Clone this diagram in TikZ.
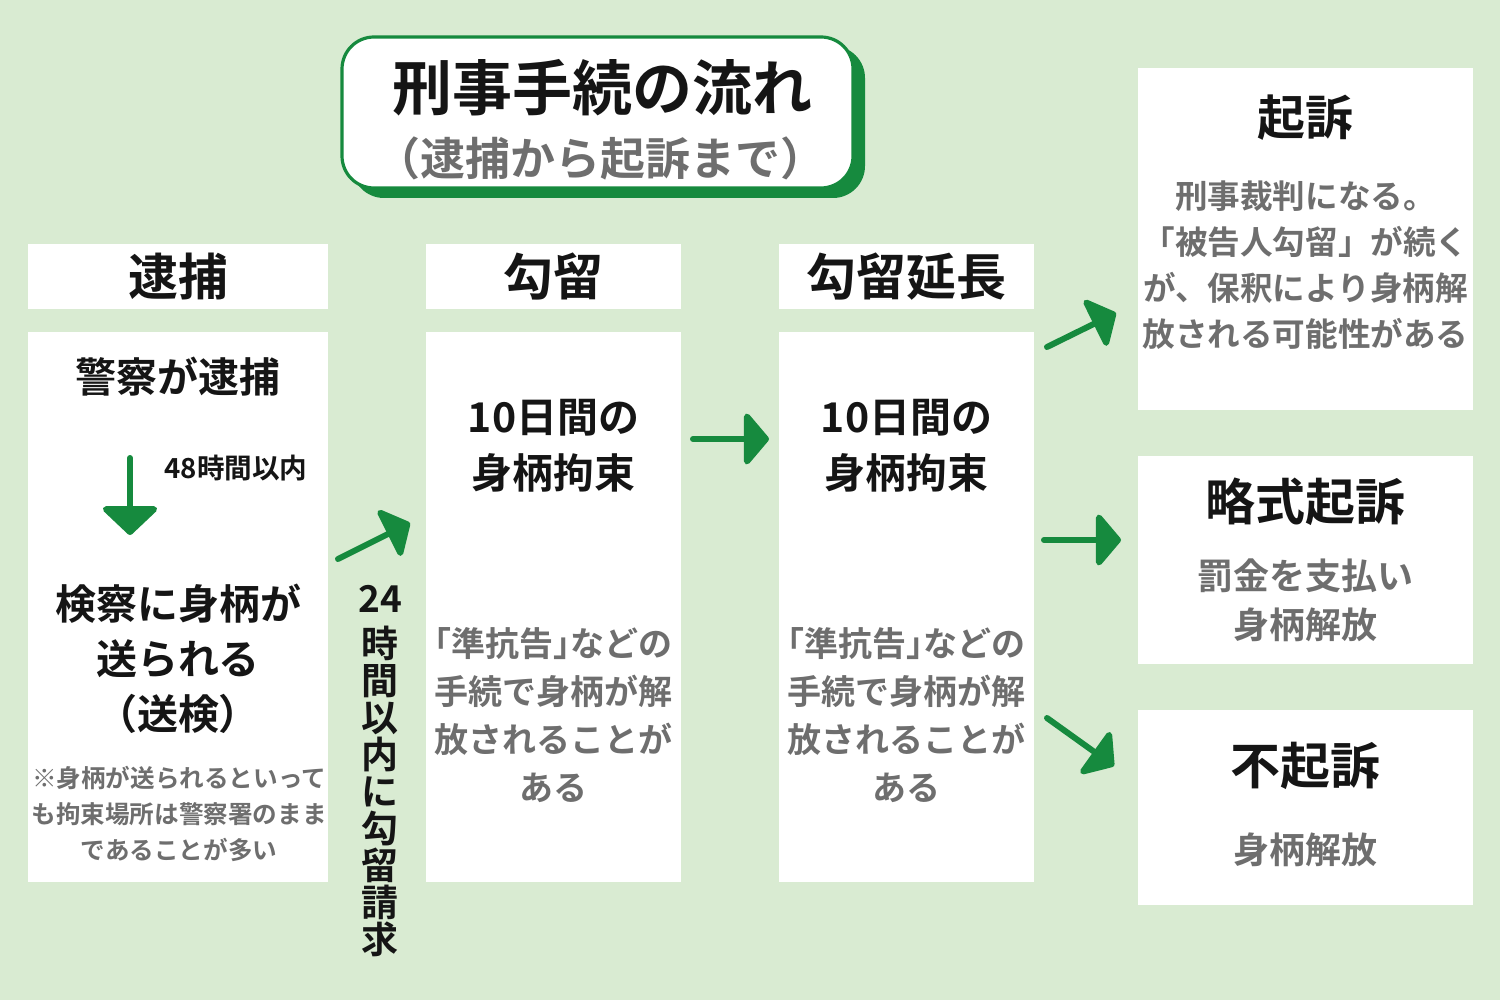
\documentclass[tikz,border=0pt]{standalone}
\usepackage{fontspec}
\setmainfont{Noto Sans CJK JP Bold}
\newfontfamily\halfp{Noto Sans CJK JP Bold}[RawFeature=+halt]
\usetikzlibrary{arrows.meta}
\definecolor{bgc}{HTML}{D9EBD2}
\definecolor{grn}{HTML}{168A3E}
\definecolor{txt}{HTML}{151515}
\definecolor{gry}{HTML}{6E6E6E}
\newcommand{\fs}[2]{\fontsize{#1}{#2}\selectfont}
\newcommand{\hp}[1]{{\halfp #1}}
\begin{document}
\begin{tikzpicture}[x=0.5pt,y=-0.5pt,
  panel/.style={fill=white, draw=none, inner sep=0pt},
  lbl/.style={inner sep=0pt, align=center, text=txt},
  glbl/.style={inner sep=0pt, align=center, text=gry},
  garrow/.style={draw=grn, line width=3pt, line cap=round},
  tipA/.style={-{Triangle[length=13pt,width=30pt,round]}}
]
\fill[bgc] (0,0) rectangle (1500,1000);
\useasboundingbox (0,0) rectangle (1500,1000);

% title
\fill[grn, rounded corners=16pt] (352,46) rectangle (865,198);
\draw[grn, line width=1.6pt, fill=white, rounded corners=16pt] (342,37) rectangle (853,188);
\node[lbl, font=\fs{30pt}{36pt}] (title) at (602,88) {刑事手続の流れ};
\node[glbl, font=\fs{22.5pt}{27pt}] (sub) at (600,158) {（逮捕から起訴まで）};

% headers
\node[panel, minimum width=150pt, minimum height=32.5pt] (h1) at (178,276.5) {};
\node[panel, minimum width=127.5pt, minimum height=32.5pt] (h2) at (553.5,276.5) {};
\node[panel, minimum width=127.5pt, minimum height=32.5pt] (h3) at (906.5,276.5) {};
\node[lbl, font=\fs{25pt}{30pt}] (h1t) at (h1) {逮捕};
\node[lbl, font=\fs{25pt}{30pt}] (h2t) at (h2) {勾留};
\node[lbl, font=\fs{25pt}{30pt}] (h3t) at (h3) {勾留延長};

% content panels
\node[panel, minimum width=150pt, minimum height=275pt] (b1) at (178,607) {};
\node[panel, minimum width=127.5pt, minimum height=275pt] (b2) at (553.5,607) {};
\node[panel, minimum width=127.5pt, minimum height=275pt] (b3) at (906.5,607) {};

% right panels
\node[panel, minimum width=167.5pt, minimum height=171pt] (r1) at (1305.5,239) {};
\node[panel, minimum width=167.5pt, minimum height=104pt] (r2) at (1305.5,560) {};
\node[panel, minimum width=167.5pt, minimum height=97.5pt] (r3) at (1305.5,807.5) {};

% left panel text
\node[lbl, font=\fs{20.5pt}{25pt}] (p1a) at (178,377) {警察が逮捕};
\node[lbl, font=\fs{13.8pt}{16pt}] (p1b) at (236,468) {48時間以内};
\node[lbl, font=\fs{20.5pt}{27.5pt}] (p1c) at (178,659) {検察に身柄が\\送られる\\（送検）};
\node[glbl, font=\fs{12.3pt}{18pt}] (p1d) at (179,814) {※身柄が送られるといって\\も拘束場所は警察署のまま\\であることが多い};

% middle panels text
\node[lbl, font=\fs{20.5pt}{28pt}] (p2a) at (553.5,446) {10日間の\\身柄拘束};
\node[glbl, font=\fs{17pt}{24pt}] (p2b) at (553.5,715) {\hp{「}準抗告\hp{」}などの\\手続で身柄が解\\放されることが\\ある};
\node[lbl, font=\fs{20.5pt}{28pt}] (p3a) at (906.5,446) {10日間の\\身柄拘束};
\node[glbl, font=\fs{17pt}{24pt}] (p3b) at (906.5,715) {\hp{「}準抗告\hp{」}などの\\手続で身柄が解\\放されることが\\ある};

% vertical label
\node[lbl, font=\fs{18.5pt}{18.5pt}] (vl) at (380,771) {24\\[4pt]時\\間\\以\\内\\に\\勾\\留\\請\\求};

% right panel texts
\node[lbl, font=\fs{24pt}{30pt}] (r1t) at (1305.5,118) {起訴};
\node[glbl, font=\fs{16.3pt}{23pt}] (r1b) at (1305.5,265) {刑事裁判になる。\\「被告人勾留」が続く\\が、保釈により身柄解\\放される可能性がある};
\node[lbl, font=\fs{25pt}{30pt}] (r2t) at (1305.5,502) {略式起訴};
\node[glbl, font=\fs{18pt}{24.5pt}] (r2b) at (1305.5,600) {罰金を支払い\\身柄解放};
\node[lbl, font=\fs{25pt}{30pt}] (r3t) at (1305.5,766) {不起訴};
\node[glbl, font=\fs{18pt}{24pt}] (r3b) at (1305.5,850) {身柄解放};

% arrows
\coordinate (d1s) at (130,458); \coordinate (d1e) at (130,535);
\draw[garrow, -{Triangle[length=15pt,width=31pt,round]}] (d1s) -- (d1e);
\coordinate (a1s) at (338,559); \coordinate (a1e) at (410,523);
\draw[garrow, tipA] (a1s) -- (a1e);
\coordinate (a2s) at (693,439); \coordinate (a2e) at (769,439);
\draw[garrow, tipA] (a2s) -- (a2e);
\coordinate (a3s) at (1047,347); \coordinate (a3e) at (1116,313);
\draw[garrow, tipA] (a3s) -- (a3e);
\coordinate (a4s) at (1044,540); \coordinate (a4e) at (1121,540);
\draw[garrow, tipA] (a4s) -- (a4e);
\coordinate (a5s) at (1047,718); \coordinate (a5e) at (1114,766);
\draw[garrow, tipA] (a5s) -- (a5e);
\end{tikzpicture}
\end{document}
